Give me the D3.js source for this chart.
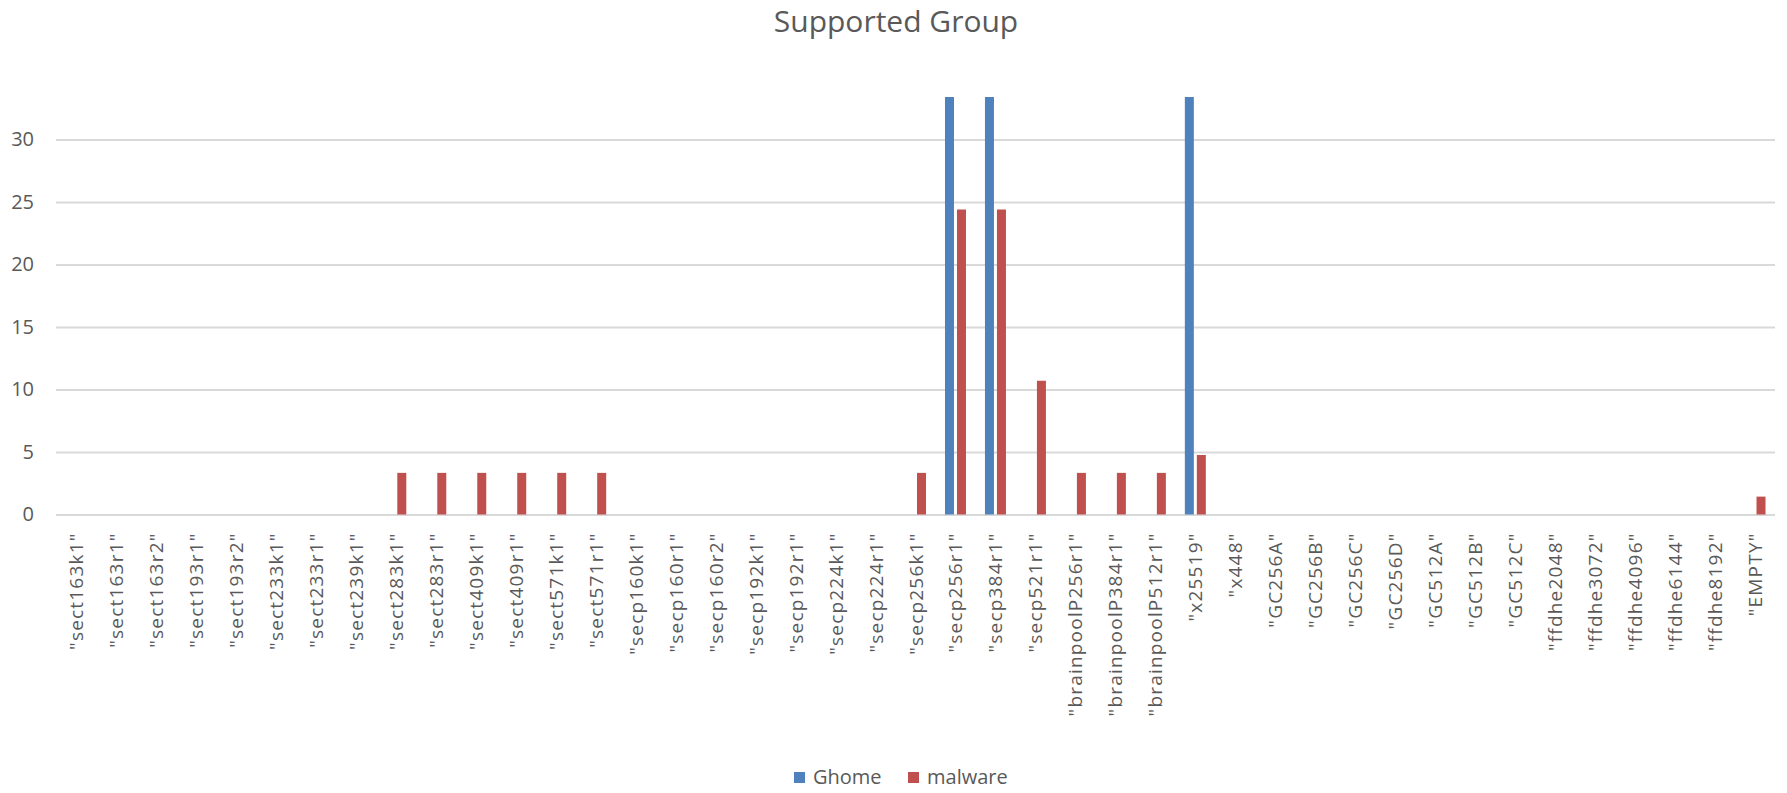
<!DOCTYPE html>
<html>
<head>
<meta charset="utf-8">
<script src="https://cdn.jsdelivr.net/npm/d3@7"></script>
<style>
  html, body { margin: 0; padding: 0; background: #ffffff; }
  svg { display: block; font-family: "Open Sans", "Noto Sans", sans-serif; }
</style>
</head>
<body>
<svg id="chart" width="1787" height="793"></svg>
<script>
// Supported groups (TLS named groups) offered by each client
const categories = [
  '"sect163k1"', '"sect163r1"', '"sect163r2"', '"sect193r1"', '"sect193r2"',
  '"sect233k1"', '"sect233r1"', '"sect239k1"', '"sect283k1"', '"sect283r1"',
  '"sect409k1"', '"sect409r1"', '"sect571k1"', '"sect571r1"', '"secp160k1"',
  '"secp160r1"', '"secp160r2"', '"secp192k1"', '"secp192r1"', '"secp224k1"',
  '"secp224r1"', '"secp256k1"', '"secp256r1"', '"secp384r1"', '"secp521r1"',
  '"brainpoolP256r1"', '"brainpoolP384r1"', '"brainpoolP512r1"', '"x25519"', '"x448"',
  '"GC256A"', '"GC256B"', '"GC256C"', '"GC256D"', '"GC512A"', '"GC512B"', '"GC512C"',
  '"ffdhe2048"', '"ffdhe3072"', '"ffdhe4096"', '"ffdhe6144"', '"ffdhe8192"', '"EMPTY"'
];

const ghome = [
  0, 0, 0, 0, 0, 0, 0, 0, 0, 0, 0, 0, 0, 0, 0,
  0, 0, 0, 0, 0, 0, 0, 33.4, 33.4, 0,
  0, 0, 0, 33.4, 0,
  0, 0, 0, 0, 0, 0, 0,
  0, 0, 0, 0, 0, 0
];

const malware = [
  0, 0, 0, 0, 0, 0, 0, 0, 3.33, 3.33, 3.33, 3.33, 3.33, 3.33, 0,
  0, 0, 0, 0, 0, 0, 3.33, 24.4, 24.4, 10.7,
  3.33, 3.33, 3.33, 4.76, 0,
  0, 0, 0, 0, 0, 0, 0,
  0, 0, 0, 0, 0, 1.43
];

const seriesNames = ["Ghome", "malware"];
const seriesColors = ["#4F81BD", "#C0504D"];
const yTicks = [0, 5, 10, 15, 20, 25, 30];
const titleText = "Supported Group";

const svg = d3.select("#chart");
const textColor = "#595959";

const plot = { left: 56, right: 1775, top: 97, bottom: 514.5 };

const x = d3.scaleBand().domain(categories).range([plot.left, plot.right]).padding(0);
const yMax = d3.max([d3.max(ghome), d3.max(malware)]);
const y = d3.scaleLinear().domain([0, yMax]).range([plot.bottom, plot.top]);

// Title
svg.append("text")
  .attr("x", 896).attr("y", 32)
  .attr("text-anchor", "middle")
  .attr("font-size", 30)
  .attr("fill", textColor)
  .text(titleText);

// Horizontal gridlines with value labels
const yAxis = d3.axisLeft(y).tickValues(yTicks).tickSize(-(plot.right - plot.left)).tickPadding(22);
const yG = svg.append("g").attr("transform", `translate(${plot.left},0)`).call(yAxis);
yG.select(".domain").remove();
yG.selectAll(".tick line").attr("stroke", "#D9D9D9").attr("stroke-width", 1.8);
yG.selectAll(".tick text")
  .attr("font-size", 20)
  .attr("fill", textColor)
  .attr("font-family", '"Open Sans", "Noto Sans", sans-serif');

// Category axis: rotated labels below the baseline
const xAxis = d3.axisBottom(x).tickSize(0).tickPadding(0);
const xG = svg.append("g").attr("transform", `translate(0,${plot.bottom})`).call(xAxis);
xG.select(".domain").remove();
xG.selectAll(".tick text")
  .attr("font-size", 19)
  .attr("letter-spacing", "1.2px")
  .attr("fill", textColor)
  .attr("font-family", '"Open Sans", "Noto Sans", sans-serif')
  .attr("text-anchor", "end")
  .attr("dy", null)
  .attr("transform", "translate(7,18) rotate(-90)")
  .attr("x", 0).attr("y", 0);

// Clustered bars
const barW = 9, gap = 3;
const series = [ghome, malware];
series.forEach((vals, s) => {
  const offset = s === 0 ? -gap / 2 - barW : gap / 2;
  svg.append("g").selectAll("rect")
    .data(categories.map((c, i) => ({ c, v: vals[i] })).filter(d => d.v > 0))
    .join("rect")
    .attr("x", d => x(d.c) + x.bandwidth() / 2 + offset)
    .attr("y", d => y(d.v))
    .attr("width", barW)
    .attr("height", d => y(0) - y(d.v))
    .attr("fill", seriesColors[s]);
});

// Legend
const legendItems = [
  { name: seriesNames[0], color: seriesColors[0], x: 794 },
  { name: seriesNames[1], color: seriesColors[1], x: 908 }
];
const lg = svg.append("g");
legendItems.forEach(it => {
  lg.append("rect").attr("x", it.x).attr("y", 772).attr("width", 11).attr("height", 11).attr("fill", it.color);
  lg.append("text").attr("x", it.x + 19).attr("y", 783.5)
    .attr("font-size", 20).attr("fill", textColor).text(it.name);
});
</script>
</body>
</html>
